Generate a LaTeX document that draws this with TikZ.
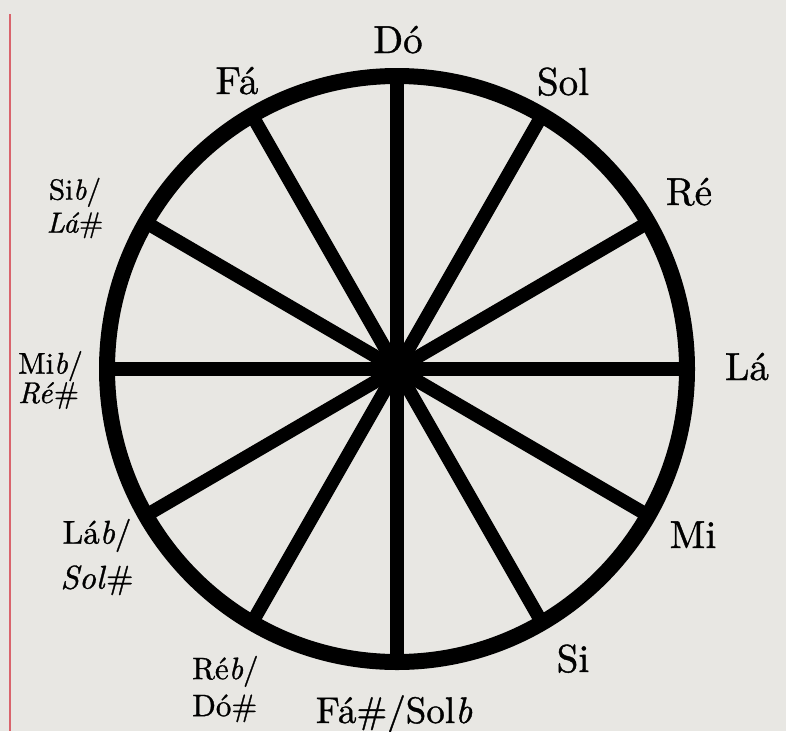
\documentclass[tikz,border=0pt]{standalone}
\usepackage{fontspec}
\setmainfont{lmroman10-regular.otf}[ItalicFont=lmroman10-italic.otf, RawFeature={embolden=1}]
\usetikzlibrary{calc}
\definecolor{bg}{HTML}{E8E7E3}
\definecolor{redline}{HTML}{D9646C}
\begin{document}
\begin{tikzpicture}[x=1pt,y=-1pt,
  big/.style={font=\fontsize{39}{43}\selectfont, inner sep=0pt, anchor=base},
  pair/.style={inner sep=0pt, align=center},
  spoke/.style={line width=13.5pt, line cap=butt},
  rim/.style={line width=16pt}]
\fill[bg] (0,0) rectangle (786,731);
\useasboundingbox (0,0) rectangle (786,731);
\draw[redline, line width=2pt] (9.5,14) -- (9.5,731);
\coordinate (c) at (397,369);
\foreach \a in {0,30,...,330}{
  \coordinate (p\a) at ($(c)+({290*cos(\a)},{-293*sin(\a)})$);
  \draw[spoke] (c) -- (p\a);
}
\draw[rim] (c) ellipse [x radius=290pt, y radius=293pt];
\fill (c) circle [radius=20pt];
\node[big] (do) at (398,53) {Dó};
\node[big] (fa) at (237,94) {Fá};
\node[big] (sol) at (563,95) {Sol};
\node[big] (re) at (689,205) {Ré};
\node[big] (la) at (747,380) {Lá};
\node[big] (mi) at (693,548) {Mi};
\node[big] (si) at (573,672) {Si};
\node[big, font=\fontsize{37}{41}\selectfont] (fasol) at (394,723) {Fá\#/Sol\textit{b}};
\node[pair, font=\fontsize{29}{33}\selectfont] (sibla) at (75,208) {Si\textit{b}/\\\textit{Lá}\#};
\node[pair, align=left, anchor=west, font=\fontsize{30}{27}\selectfont] (mibre) at (18,380) {Mi\textit{b}/\\\textit{Ré}\#};
\node[pair, font=\fontsize{33}{45}\selectfont] (labsol) at (97,557) {Lá\textit{b}/\\\textit{Sol}\#};
\node[pair, align=left, anchor=west, font=\fontsize{31}{37}\selectfont] (rebdo) at (192,689) {Ré\textit{b}/\\Dó\#};
\end{tikzpicture}
\end{document}
